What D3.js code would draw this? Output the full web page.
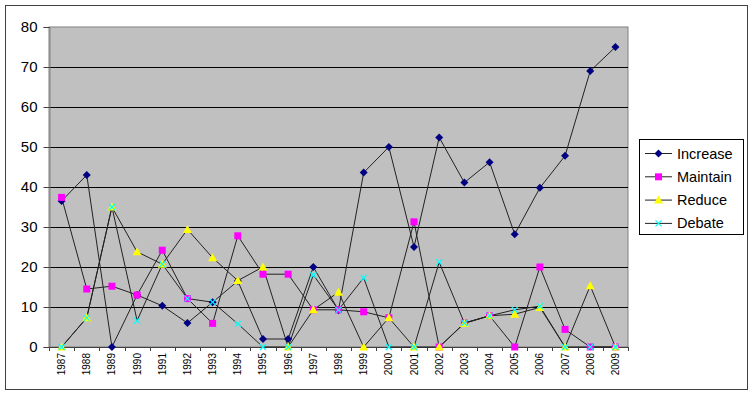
<!DOCTYPE html>
<html>
<head>
<meta charset="utf-8">
<script src="https://cdn.jsdelivr.net/npm/d3@7"></script>
<style>
body { margin: 0; background: #fff; }
text { font-family: "Liberation Sans", Arial, sans-serif; }
</style>
</head>
<body>
<script>
var width = 754, height = 396;

var years = ["1987","1988","1989","1990","1991","1992","1993","1994","1995","1996","1997","1998",
             "1999","2000","2001","2002","2003","2004","2005","2006","2007","2008","2009"];
var increase = [36.5,43,0,13,10.3,6,11.2,16.5,2,2,20,9.2,43.6,50,25,52.4,41.1,46.2,28.2,39.8,47.8,69,75];
var maintain = [37.4,14.5,15.2,13,24.2,12.1,5.9,27.8,18.2,18.2,9.3,9.3,8.8,7.3,31.3,0,6,7.8,0,20,4.4,0,0];
var reduce   = [0,7.3,35,23.8,20.7,29.4,22.3,16.6,20,0,9.3,13.7,0,7.3,0,0,5.9,7.8,8.2,9.9,0,15.3,0];
var debate   = [0,7.3,35,6.6,20.7,12.1,11.2,5.8,0,0,18,9.3,17.3,0,0,21.2,6,7.8,9.3,10.2,0,0,0];
var yTicks = [0,10,20,30,40,50,60,70,80];

var series = [
  {name:"Increase", values: increase, color:"#000080", shape:"diamond"},
  {name:"Maintain", values: maintain, color:"#ff00ff", shape:"square"},
  {name:"Reduce",   values: reduce,   color:"#ffff00", shape:"triangle"},
  {name:"Debate",   values: debate,   color:"#00ffff", shape:"cross"}
];

var svg = d3.select("body").append("svg")
            .attr("width", width).attr("height", height);

// outer frame
svg.append("rect").attr("x", 5.5).attr("y", 5.5).attr("width", 742).attr("height", 384)
   .attr("fill", "#fff").attr("stroke", "#404040");

var pLeft = 49, pRight = 628, pTop = 27, pBottom = 347;

var x = d3.scaleBand().domain(years).range([pLeft, pRight]).padding(0);
var y = d3.scaleLinear().domain([0, 80]).range([pBottom, pTop]);
var cx = function(i){ return x(years[i]) + x.bandwidth() / 2; };

// plot area
svg.append("rect").attr("x", pLeft).attr("y", y(80)).attr("width", pRight - pLeft).attr("height", pBottom - y(80))
   .attr("fill", "#c0c0c0").attr("stroke", "#808080");

// gridlines
svg.append("g").selectAll("line").data(yTicks.filter(function(d){ return d > 0 && d < 80; }))
   .enter().append("line")
   .attr("x1", pLeft).attr("x2", pRight)
   .attr("y1", function(d){ return Math.round(y(d)) + 0.5; })
   .attr("y2", function(d){ return Math.round(y(d)) + 0.5; })
   .attr("stroke", "#000");

// y axis
var yAxis = svg.append("g").attr("transform", "translate(" + (pLeft + 0.5) + ",0)")
   .call(d3.axisLeft(y).tickValues(yTicks).tickSize(6).tickPadding(6));
yAxis.select(".domain").attr("stroke", "#808080");
yAxis.selectAll(".tick line").attr("stroke", "#404040");
yAxis.selectAll(".tick text").attr("font-size", "15px").attr("fill", "#000")
   .attr("font-family", "'Liberation Sans', Arial, sans-serif");

// x axis with ticks between categories
var xg = svg.append("g");
xg.append("line").attr("x1", pLeft).attr("x2", pRight).attr("y1", pBottom + 0.5).attr("y2", pBottom + 0.5)
  .attr("stroke", "#404040");
xg.selectAll(".xt").data(years.concat(["end"])).enter().append("line")
  .attr("x1", function(d, i){ return Math.round(pLeft + i * x.bandwidth()) + 0.5; })
  .attr("x2", function(d, i){ return Math.round(pLeft + i * x.bandwidth()) + 0.5; })
  .attr("y1", pBottom).attr("y2", pBottom + 4)
  .attr("stroke", "#404040");
xg.selectAll("text").data(years).enter().append("text")
  .attr("transform", function(d, i){ return "translate(" + (cx(i) + 3.5) + "," + (pBottom + 6) + ") rotate(-90)"; })
  .attr("text-anchor", "end")
  .attr("font-size", "10px")
  .attr("fill", "#000")
  .text(function(d){ return d; });

// lines
var line = d3.line().x(function(d, i){ return cx(i); }).y(function(d){ return y(d); });
svg.append("g").selectAll("path").data(series).enter().append("path")
   .attr("d", function(s){ return line(s.values); })
   .attr("fill", "none").attr("stroke", "#222").attr("stroke-width", 1);

function drawMarker(g, shape, color, px, py) {
  if (shape === "diamond") {
    g.append("path").attr("d", "M" + px + "," + (py - 4) + "L" + (px + 4) + "," + py + "L" + px + "," + (py + 4) + "L" + (px - 4) + "," + py + "Z")
     .attr("fill", color);
  } else if (shape === "square") {
    g.append("rect").attr("x", px - 3.5).attr("y", py - 3.5).attr("width", 7).attr("height", 7).attr("fill", color);
  } else if (shape === "triangle") {
    g.append("path").attr("d", "M" + px + "," + (py - 4.5) + "L" + (px + 4.5) + "," + (py + 3.5) + "L" + (px - 4.5) + "," + (py + 3.5) + "Z")
     .attr("fill", color);
  } else {
    g.append("path").attr("d", "M" + (px - 3) + "," + (py - 3) + "L" + (px + 3) + "," + (py + 3) + "M" + (px + 3) + "," + (py - 3) + "L" + (px - 3) + "," + (py + 3))
     .attr("stroke", color).attr("stroke-width", 1.2).attr("fill", "none");
  }
}

var marks = svg.append("g");
series.forEach(function(s){
  s.values.forEach(function(v, i){
    drawMarker(marks, s.shape, s.color, cx(i), y(v));
  });
});

// legend
var lg = svg.append("g").attr("transform", "translate(639,139)");
lg.append("rect").attr("x", 0.5).attr("y", 0.5).attr("width", 104).attr("height", 95)
  .attr("fill", "#fff").attr("stroke", "#000");
var item = lg.selectAll(".legends").data(series).enter().append("g").classed("legends", true)
  .attr("transform", function(d, i){ return "translate(0," + (14 + i * 23.3) + ")"; });
item.append("line").attr("x1", 6).attr("x2", 33).attr("y1", 0.5).attr("y2", 0.5).attr("stroke", "#222");
item.each(function(d){ drawMarker(d3.select(this), d.shape, d.color, 19.5, 0.5); });
item.append("text").attr("x", 38).attr("y", 5.5).attr("font-size", "14.5px").attr("fill", "#000")
  .text(function(d){ return d.name; });
</script>
</body>
</html>
